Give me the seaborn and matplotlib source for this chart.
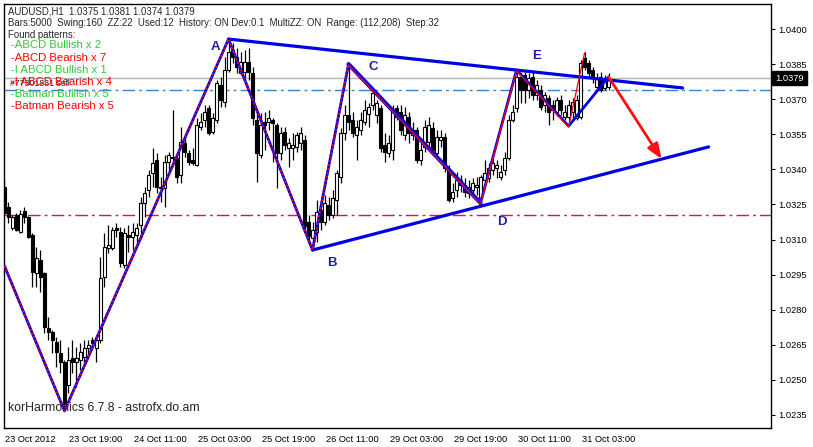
import numpy as np
import pandas as pd
import matplotlib
matplotlib.use("Agg")
import matplotlib.pyplot as plt
import matplotlib.transforms as mtransforms
import seaborn as sns

# ---------------- data ----------------
opens = [
1.03325,1.03239,1.03149,1.03205,1.03132,1.03222,1.03196,1.03119,1.02957,1.03013,
1.02957,1.02722,1.02705,1.02662,1.02615,1.02576,1.02478,1.02594,1.02576,1.02585,
1.02598,1.02636,1.02671,1.02636,1.02671,1.02940,1.03064,1.03064,1.03149,1.03132,
1.02991,1.03119,1.03111,1.03119,1.03162,1.03256,1.03312,1.03384,1.03440,1.03320,
1.03320,1.03431,1.03449,1.03449,1.03376,1.03513,1.03470,1.03440,1.03419,1.03581,
1.03611,1.03662,1.03560,1.03611,1.03761,1.03688,1.03825,1.03910,1.03880,1.03812,
1.03816,1.03859,1.03812,1.03611,1.03461,1.03602,1.03602,1.03611,1.03590,1.03470,
1.03560,1.03491,1.03491,1.03496,1.03513,1.03526,1.03175,1.03107,1.03132,1.03226,
1.03175,1.03248,1.03205,1.03269,1.03367,1.03555,1.03632,1.03611,1.03547,1.03568,
1.03602,1.03637,1.03675,1.03632,1.03662,1.03504,1.03470,1.03483,1.03662,1.03645,
1.03547,1.03624,1.03547,1.03568,1.03440,1.03496,1.03517,1.03577,1.03470,1.03526,
1.03538,1.03397,1.03278,1.03312,1.03355,1.03333,1.03299,1.03312,1.03325,1.03278,
1.03355,1.03363,1.03397,1.03406,1.03367,1.03397,1.03449,1.03611,1.03662,1.03795,
1.03803,1.03739,1.03795,1.03718,1.03739,1.03675,1.03705,1.03675,1.03645,1.03697,
1.03624,1.03624,1.03645,1.03620,1.03624,1.03876,1.03855,1.03825,1.03752,1.03795,
1.03748,1.0375]

highs = [
1.03355,1.03260,1.03205,1.03213,1.03226,1.03239,1.03201,1.03128,1.03068,1.03055,
1.02961,1.02769,1.02713,1.02683,1.02671,1.02585,1.02641,1.02671,1.02641,1.02658,
1.02671,1.02671,1.02683,1.02692,1.03025,1.03128,1.03162,1.03154,1.03171,1.03154,
1.03149,1.03162,1.03171,1.03171,1.03282,1.03325,1.03397,1.03491,1.03470,1.03367,
1.03461,1.03474,1.03654,1.03470,1.03581,1.03538,1.03483,1.03491,1.03620,1.03641,
1.03675,1.03675,1.03641,1.03782,1.03795,1.03880,1.03957,1.03940,1.03919,1.03902,
1.03910,1.03919,1.03838,1.03654,1.03641,1.03645,1.03654,1.03620,1.03598,1.03581,
1.03581,1.03534,1.03555,1.03560,1.03581,1.03547,1.03205,1.03175,1.03269,1.03269,
1.03290,1.03282,1.03312,1.03397,1.03577,1.03675,1.03850,1.03645,1.03611,1.03645,
1.03697,1.03684,1.03748,1.03697,1.03675,1.03555,1.03547,1.03675,1.03675,1.03675,
1.03667,1.03645,1.03602,1.03581,1.03513,1.03611,1.03624,1.03602,1.03568,1.03568,
1.03555,1.03419,1.03342,1.03389,1.03376,1.03363,1.03355,1.03363,1.03367,1.03376,
1.03440,1.03427,1.03449,1.03440,1.03419,1.03474,1.03632,1.03675,1.03825,1.03812,
1.03816,1.03812,1.03816,1.03782,1.03761,1.03731,1.03718,1.03697,1.03709,1.03718,
1.03675,1.03697,1.03705,1.03718,1.03868,1.03902,1.03868,1.03838,1.03812,1.03816,
1.03803,1.0381]

lows = [
1.03205,1.03171,1.03141,1.03136,1.03128,1.03171,1.03107,1.02897,1.02897,1.02876,
1.02700,1.02671,1.02615,1.02555,1.02529,1.02367,1.02444,1.02529,1.02470,1.02542,
1.02572,1.02615,1.02628,1.02576,1.02658,1.02897,1.03042,1.03055,1.03111,1.02983,
1.02978,1.03047,1.03055,1.03068,1.03111,1.03196,1.03282,1.03325,1.03299,1.03260,
1.03239,1.03397,1.03427,1.03342,1.03342,1.03453,1.03419,1.03419,1.03414,1.03568,
1.03581,1.03547,1.03551,1.03598,1.03667,1.03667,1.03816,1.03855,1.03812,1.03803,
1.03791,1.03782,1.03590,1.03346,1.03449,1.03483,1.03568,1.03431,1.03320,1.03440,
1.03483,1.03410,1.03440,1.03474,1.03483,1.03141,1.03081,1.03055,1.03089,1.03141,
1.03162,1.03184,1.03192,1.03205,1.03342,1.03526,1.03568,1.03538,1.03440,1.03547,
1.03590,1.03581,1.03654,1.03598,1.03474,1.03431,1.03453,1.03440,1.03611,1.03547,
1.03526,1.03513,1.03526,1.03427,1.03419,1.03474,1.03491,1.03474,1.03453,1.03496,
1.03389,1.03260,1.03260,1.03282,1.03303,1.03282,1.03278,1.03282,1.03290,1.03256,
1.03342,1.03346,1.03376,1.03363,1.03355,1.03376,1.03440,1.03602,1.03645,1.03684,
1.03684,1.03705,1.03697,1.03697,1.03654,1.03645,1.03590,1.03611,1.03628,1.03632,
1.03611,1.03585,1.03620,1.03611,1.03615,1.03825,1.03795,1.03769,1.03739,1.03731,
1.03739,1.0374]

closes = [
1.03213,1.03196,1.03196,1.03141,1.03209,1.03196,1.03111,1.02961,1.03021,1.02940,
1.02726,1.02705,1.02671,1.02619,1.02576,1.02401,1.02585,1.02576,1.02594,1.02619,
1.02636,1.02649,1.02658,1.02671,1.02936,1.03068,1.03077,1.03141,1.03141,1.03000,
1.03128,1.03111,1.03132,1.03149,1.03256,1.03299,1.03376,1.03427,1.03325,1.03325,
1.03431,1.03461,1.03453,1.03367,1.03517,1.03474,1.03431,1.03427,1.03590,1.03602,
1.03645,1.03555,1.03620,1.03769,1.03697,1.03825,1.03902,1.03880,1.03838,1.03859,
1.03859,1.03816,1.03620,1.03470,1.03590,1.03590,1.03620,1.03598,1.03470,1.03555,
1.03504,1.03513,1.03504,1.03547,1.03555,1.03158,1.03115,1.03141,1.03218,1.03175,
1.03256,1.03205,1.03278,1.03384,1.03555,1.03632,1.03602,1.03555,1.03581,1.03611,
1.03654,1.03667,1.03726,1.03684,1.03491,1.03474,1.03513,1.03654,1.03624,1.03568,
1.03632,1.03555,1.03568,1.03440,1.03483,1.03581,1.03590,1.03483,1.03538,1.03538,
1.03406,1.03269,1.03303,1.03355,1.03333,1.03303,1.03325,1.03342,1.03333,1.03367,
1.03384,1.03406,1.03427,1.03419,1.03389,1.03449,1.03611,1.03645,1.03795,1.03739,
1.03739,1.03791,1.03718,1.03761,1.03667,1.03718,1.03645,1.03654,1.03697,1.03654,
1.03645,1.03675,1.03688,1.03697,1.03855,1.03838,1.03812,1.03791,1.03791,1.03739,
1.03782,1.0379]

# zigzag turning points (bar index, price)
zz_bars = [0, 15, 56, 77, 86, 119, 128, 141, 145]
zz_prices = [1.02987, 1.02367, 1.03957, 1.03055, 1.03850, 1.03256, 1.03825, 1.03585, 1.03902]

# pattern points
pt_names = ["A", "B", "C", "D", "E"]
pt_bars = [52.8, 81.8, 92.3, 124.3, 133.0]
pt_prices = [1.03923, 1.03000, 1.03838, 1.03175, 1.03885]

upper_tl_bars = [56, 169.5]
upper_tl_prices = [1.03957, 1.03748]
lower_tl_bars = [77, 176]
lower_tl_prices = [1.03055, 1.03496]
pattern_bars = [119, 128, 141, 151]
pattern_prices = [1.03256, 1.03825, 1.03585, 1.03795]
arrow_start = (151, 1.03795)
arrow_end = (164.25, 1.03444)

last_price = 1.0379
blue_level = 1.03739
red_level = 1.03205

x_tick_bars = [0, 16, 32, 48, 64, 80, 96, 112, 128, 144]
x_tick_labels = ["23 Oct 2012", "23 Oct 19:00", "24 Oct 11:00", "25 Oct 03:00",
                 "25 Oct 19:00", "26 Oct 11:00", "29 Oct 03:00", "29 Oct 19:00",
                 "30 Oct 11:00", "31 Oct 03:00"]
y_ticks = [1.0235, 1.0250, 1.0265, 1.0280, 1.0295, 1.0310, 1.0325,
           1.0340, 1.0355, 1.0370, 1.0385, 1.0400]

header1 = "AUDUSD,H1  1.0375 1.0381 1.0374 1.0379"
header2 = "Bars:5000  Swing:160  ZZ:22  Used:12  History: ON Dev:0.1  MultiZZ: ON  Range: (112,208)  Step:32"
found_lines = ["-ABCD Bullish x 2", "-ABCD Bearish x 7", "-I ABCD Bullish x 1",
               "-I ABCD Bearish x 4", "-Batman Bullish x 5", "-Batman Bearish x 5"]
found_colors = ["#33c833", "#ff0000", "#33c833", "#ff0000", "#33c833", "#ff0000"]

# ---------------- style ----------------
sns.set_style("white")
plt.rcParams['font.family'] = ['Liberation Sans', 'DejaVu Sans']

W, H = 813, 447
fig = plt.figure(figsize=(W / 100, H / 100), dpi=100)
fig.patch.set_facecolor("white")
ax = fig.add_axes([4 / W, (H - 428) / H, 767 / W, 424 / H])

df = pd.DataFrame({"bar": np.arange(len(opens)), "open": opens, "high": highs,
                   "low": lows, "close": closes})
hi = df[["open", "high", "close"]].max(axis=1)
lo = df[["open", "low", "close"]].min(axis=1)

# wicks
ax.vlines(df["bar"], lo, hi, color="black", lw=0.9, zorder=2)
# bodies
up = df["close"] >= df["open"]
body_b = np.minimum(df["open"], df["close"])
body_h = np.maximum(np.abs(df["close"] - df["open"]), 0.00002)
ax.bar(df["bar"][up], body_h[up], bottom=body_b[up], width=0.55,
       facecolor="white", edgecolor="black", lw=0.8, zorder=3)
ax.bar(df["bar"][~up], body_h[~up], bottom=body_b[~up], width=0.55,
       facecolor="black", edgecolor="black", lw=0.8, zorder=3)

# horizontal levels
ax.axhline(last_price, color="#b4b4b4", lw=1, zorder=1)
ax.axhline(blue_level, color="#3c82c4", lw=1, ls=(0, (9, 3, 2, 3)), zorder=1)
ax.axhline(red_level, color="#e8103c", lw=1, ls=(0, (9, 3, 2, 3)), zorder=1)

BLUE = "#0000e6"
# trend lines
sns.lineplot(x=upper_tl_bars, y=upper_tl_prices, ax=ax, color=BLUE, lw=2.3, zorder=5)
sns.lineplot(x=lower_tl_bars, y=lower_tl_prices, ax=ax, color=BLUE, lw=2.3, zorder=5)

# zigzag (first part shown as blue/red dotted)
sns.lineplot(x=zz_bars[:5], y=zz_prices[:5], ax=ax, sort=False, color=BLUE, lw=2.0, zorder=5)
sns.lineplot(x=zz_bars[:5], y=zz_prices[:5], ax=ax, sort=False, color="#ff0000", lw=1.2,
             zorder=6).lines[-1].set_dashes([1.2, 1.2])
# C-D thick pattern leg
sns.lineplot(x=zz_bars[4:6], y=zz_prices[4:6], ax=ax, color=BLUE, lw=3.0, zorder=5)
# D-E-F-last pattern legs
sns.lineplot(x=pattern_bars, y=pattern_prices, ax=ax, sort=False, color=BLUE, lw=2.0, zorder=5)
# thin red zigzag for remaining legs
sns.lineplot(x=zz_bars[4:], y=[p - 0.00004 for p in zz_prices[4:]], ax=ax, sort=False,
             color="#ff0000", lw=0.9, zorder=6)

ax.annotate("", xy=arrow_end, xytext=arrow_start,
            arrowprops=dict(arrowstyle="-|>,head_length=0.9,head_width=0.35",
                            color="#ff1010", lw=2.0, shrinkA=0, shrinkB=0), zorder=7)

for n, b, p in zip(pt_names, pt_bars, pt_prices):
    ax.text(b, p, n, color="#2020a8", fontsize=9.5, fontweight="bold",
            ha="center", va="center", zorder=8)

# axes settings
ax.set_xlim(-0.12, 191.6)
ax.set_ylim(1.02294, 1.04107)
ax.yaxis.tick_right()
ax.set_yticks(y_ticks)
ax.set_yticklabels([f"{v:.4f}" for v in y_ticks])
ax.set_xticks(x_tick_bars)
ax.set_xticklabels(x_tick_labels, ha="left")
ax.tick_params(axis="both", direction="out", length=3, width=0.8, colors="black",
               labelsize=6.7, pad=2)
offset = mtransforms.ScaledTranslation(1 / 100, 0, fig.dpi_scale_trans)
for lab in ax.get_xticklabels():
    lab.set_transform(lab.get_transform() + offset)
for s in ax.spines.values():
    s.set_color("black")
    s.set_linewidth(1.0)
ax.set_xlabel("")
ax.set_ylabel("")
if ax.get_legend() is not None:
    ax.get_legend().remove()

# current price box
tr = mtransforms.blended_transform_factory(ax.transAxes, ax.transData)
ax.text(1.0055, last_price, f"{last_price:.4f}", transform=tr, color="white",
        fontsize=6.7, ha="left", va="center", clip_on=False,
        bbox=dict(boxstyle="square,pad=0.3", fc="black", ec="black"))


def fxy(px, py):
    return px / W, 1 - py / H


fig.text(*fxy(8, 12), header1, fontsize=6.9, va="center", ha="left")
fig.text(*fxy(8, 23), header2, fontsize=6.9, va="center", ha="left")
fig.text(*fxy(8, 35), "Found patterns:", fontsize=6.9, va="center", ha="left")
for i, (t, c) in enumerate(zip(found_lines, found_colors)):
    fig.text(*fxy(11, 45.5 + 12.1 * i), t, fontsize=8.2, color=c, va="center", ha="left", zorder=10)
fig.text(*fxy(10, 83), "#77301831 sell", fontsize=6.3, va="center", ha="left", color="#222222")
fig.text(*fxy(8, 408), "korHarmonics 6.7.8 - astrofx.do.am", fontsize=8.8,
         va="center", ha="left", color="#222222")

fig.savefig("out.png", dpi=100, facecolor="white")
